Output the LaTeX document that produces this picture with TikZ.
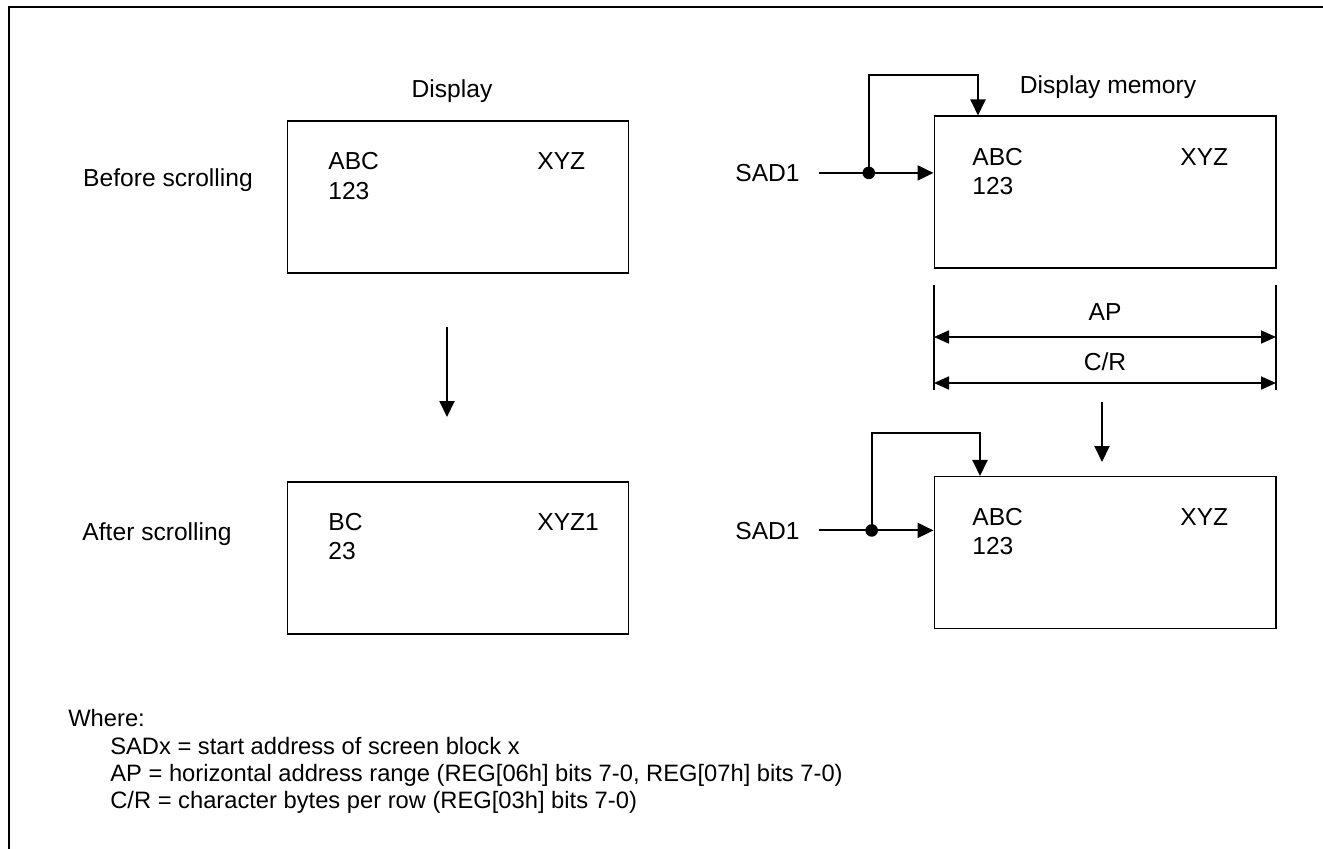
\documentclass[tikz,border=0pt]{standalone}
\usepackage{fontspec}
\setmainfont{Liberation Sans}
\usetikzlibrary{arrows.meta,positioning,calc}

\begin{document}
\begin{tikzpicture}[
            x=0.02cm, y=-0.02cm,
            screen/.style={
                    draw=black,
                    rectangle,
                    line width=0.6pt,
                    minimum width=6.84cm,
                    minimum height=3.04cm
                },
            content/.style={
                    anchor=base west,
                    inner sep=0pt,
                    font=\fontsize{14}{17}\selectfont
                },
            caption/.style={
                    anchor=base,
                    inner sep=0pt,
                    text depth=0pt,
                    font=\fontsize{14}{17}\selectfont
                },
            sadlabel/.style={
                    caption,
                    anchor=base east,
                    inner xsep=0.38cm
                },
            legend/.style={
                    anchor=base west,
                    inner sep=0pt,
                    font=\fontsize{13.5}{16}\selectfont
                },
            arrow/.style={
                    -{Triangle[length=0.32cm,width=0.3cm]},
                    line width=1.1pt
                },
            dimarrow/.style={
                    {Triangle[length=0.3cm,width=0.26cm]}-{Triangle[length=0.3cm,width=0.26cm]},
                    line width=1pt
                },
            dimline/.style={line width=0.6pt},
            frame/.style={line width=0.8pt}
            ]
            \useasboundingbox (0,0) rectangle (1323,849);

            % Marco
            \draw[frame] (1323,7) -- (9,7) -- (9,849);

            % Pantalla antes y despues
            \node[caption] (dispTitle) at (452,97) {Display};
            \node[caption] at (168,186.5) {Before scrolling};
            \node[screen] (dispA) at (458,197) {};
            \node[content] at (328,169.5) {ABC};
            \node[content] at (328,199) {123};
            \node[content] at (537,169.5) {XYZ};

            \coordinate (scrollTop) at (447,327);
            \coordinate (scrollEnd) at (447,417);
            \draw[arrow] (scrollTop) -- (scrollEnd);

            \node[caption] at (157,540.5) {After scrolling};
            \node[screen] (dispB) at (458,558) {};
            \node[content] at (328,530.5) {BC};
            \node[content] at (328,559) {23};
            \node[content] at (537,530.5) {XYZ1};

            % Memoria antes del desplazamiento
            \node[caption] (memTitle) at (1108,93) {Display memory};
            \node[screen] (memA) at (1105,192) {};
            \node[content] at (972,165.5) {ABC};
            \node[content] at (972,194) {123};
            \node[content] at (1180,165.5) {XYZ};

            \node[sadlabel] (sadA) at (819,181.5) {SAD1};
            \draw[arrow] (sadA.east) -- (sadA.east -| memA.west)
            coordinate[pos=0.435] (jA);
            \coordinate (topA) at (978,75);
            \draw[arrow] (jA) |- (topA) -- (topA |- memA.north);
            \fill (jA) circle (0.126cm);

            % AP y C/R
            \draw[dimline] (934,285) -- (934,390);
            \draw[dimline] (1276,285) -- (1276,390);
            \coordinate (apL) at (934,337);
            \coordinate (apR) at (1276,337);
            \coordinate (crL) at (934,383);
            \coordinate (crR) at (1276,383);
            \draw[dimarrow] (apL) -- (apR)
            node[midway, caption, above=0.31cm] {AP};
            \draw[dimarrow] (crL) -- (crR)
            node[midway, caption, above=0.23cm] {C/R};

            \coordinate (shiftTop) at (1102,402);
            \coordinate (shiftEnd) at (1102,462);
            \draw[arrow] (shiftTop) -- (shiftEnd);

            % Memoria despues del desplazamiento
            \node[screen] (memB) at (1105,552.5) {};
            \node[content] at (972,525.5) {ABC};
            \node[content] at (972,554) {123};
            \node[content] at (1180,525.5) {XYZ};

            \node[sadlabel] (sadB) at (819,539) {SAD1};
            \draw[arrow] (sadB.east) -- (sadB.east -| memB.west)
            coordinate[pos=0.46] (jB);
            \coordinate (topB) at (980,433);
            \draw[arrow] (jB) |- (topB) -- (topB |- memB.north);
            \fill (jB) circle (0.126cm);

            % Leyenda
            \node[legend] at (68,726.5) {Where:};
            \node[legend] at (110,754.5) {SADx = start address of screen block x};
            \node[legend] at (110,781.5)
            {AP = horizontal address range (REG[06h] bits 7-0, REG[07h] bits 7-0)};
            \node[legend] at (110,808.5)
            {C/R = character bytes per row (REG[03h] bits 7-0)};

        \end{tikzpicture}
\end{document}
